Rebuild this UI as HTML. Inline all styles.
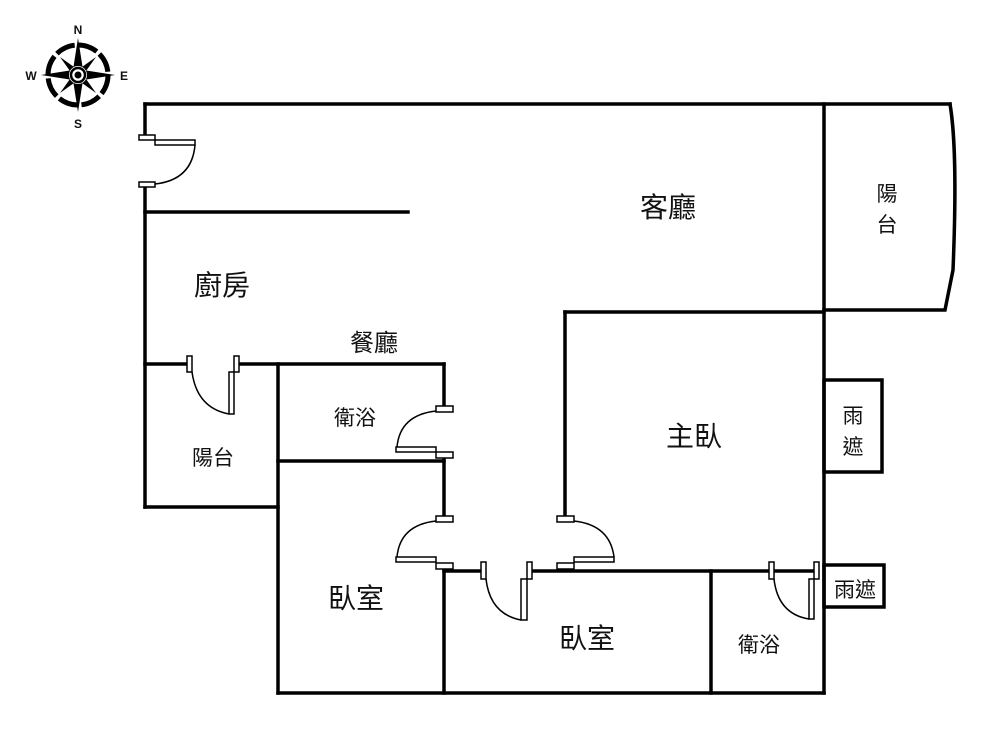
<!DOCTYPE html>
<html><head><meta charset="utf-8"><style>
html,body{margin:0;padding:0;background:#fff;}
svg{display:block;}
text{font-family:"Liberation Sans","Noto Sans CJK TC",sans-serif;fill:#111;}
</style></head><body>
<svg width="1000" height="729" viewBox="0 0 1000 729" xmlns="http://www.w3.org/2000/svg">
<rect width="1000" height="729" fill="#fff"/>
<!-- compass -->
<g transform="translate(78,75)">
  <circle r="30" fill="none" stroke="#000" stroke-width="5" stroke-dasharray="20 3.56"/>
  <polygon points="0,-37 5,-5 37,0 5,5 0,37 -5,5 -37,0 -5,-5" fill="#000"/>
  <polygon points="-18,-18 3,-3 18,18 -3,3" fill="#000" transform="rotate(0)"/>
  <polygon points="18,-18 3,3 -18,18 -3,-3" fill="#000"/>
  <circle r="9" fill="#fff"/><circle r="7" fill="none" stroke="#000" stroke-width="2.5"/><circle r="3.5" fill="#000"/>
</g>
<text x="78" y="34" font-size="12" font-weight="bold" text-anchor="middle">N</text>
<text x="78" y="128" font-size="12" font-weight="bold" text-anchor="middle">S</text>
<text x="31" y="80" font-size="12" font-weight="bold" text-anchor="middle">W</text>
<text x="124" y="80" font-size="12" font-weight="bold" text-anchor="middle">E</text>

<g stroke="#000" stroke-width="3.5" fill="none" stroke-linecap="square">
  <!-- outer top -->
  <line x1="145" y1="104" x2="950" y2="104"/>
  <line x1="145" y1="104" x2="145" y2="136"/>
  <line x1="145" y1="186" x2="145" y2="507"/>
  <line x1="145" y1="212" x2="408" y2="212"/>
  <!-- balcony right -->
  <path d="M950,104 Q958,150 953,270 L945,310 L824,310"/>
  <line x1="824" y1="104" x2="824" y2="693"/>
  <!-- master bedroom -->
  <line x1="565" y1="312" x2="824" y2="312"/>
  <line x1="565" y1="312" x2="565" y2="516"/>
  <!-- dining wall -->
  <line x1="145" y1="364" x2="187" y2="364"/>
  <line x1="238" y1="364" x2="444" y2="364"/>
  <line x1="444" y1="364" x2="444" y2="406"/>
  <line x1="278" y1="364" x2="278" y2="693"/>
  <line x1="278" y1="461" x2="444" y2="461"/>
  <line x1="444" y1="458" x2="444" y2="516"/>
  <line x1="145" y1="507" x2="278" y2="507"/>
  <line x1="444" y1="568" x2="444" y2="693"/>
  <line x1="444" y1="571" x2="481" y2="571"/>
  <line x1="532" y1="571" x2="769" y2="571"/>
  <line x1="774" y1="571" x2="814" y2="571"/>
  <line x1="711" y1="571" x2="711" y2="693"/>
  <line x1="278" y1="693" x2="824" y2="693"/>
  <!-- rain covers -->
  <rect x="824" y="380" width="58" height="92"/>
  <rect x="824" y="565" width="60" height="42"/>
</g>

<g stroke="#000" stroke-width="1.5" fill="#fff">
  <!-- entry door -->
  <rect x="139" y="135" width="16" height="5"/>
  <rect x="155" y="140" width="40" height="5"/>
  <rect x="139" y="182" width="16" height="5"/>
  <path d="M195,145 Q192,180 155,184" fill="none"/>
  <!-- balcony left door -->
  <rect x="187" y="356" width="5" height="16"/>
  <rect x="234" y="356" width="5" height="16"/>
  <rect x="229" y="372" width="5" height="42"/>
  <path d="M192,372 Q197,408 229,414" fill="none"/>
  <!-- bath door -->
  <rect x="436" y="406" width="17" height="6"/>
  <rect x="436" y="452" width="17" height="6"/>
  <rect x="396" y="447" width="40" height="5"/>
  <path d="M436,411 Q400,415 397,447" fill="none"/>
  <!-- bedroom 1 door -->
  <rect x="436" y="516" width="17" height="6"/>
  <rect x="436" y="563" width="17" height="6"/>
  <rect x="396" y="557" width="40" height="5"/>
  <path d="M436,521 Q400,525 397,557" fill="none"/>
  <!-- master door -->
  <rect x="557" y="516" width="17" height="6"/>
  <rect x="557" y="563" width="17" height="6"/>
  <rect x="574" y="557" width="40" height="5"/>
  <path d="M574,521 Q610,525 614,557" fill="none"/>
  <!-- bedroom 2 door -->
  <rect x="481" y="562" width="5" height="17"/>
  <rect x="527" y="562" width="5" height="17"/>
  <rect x="521" y="579" width="6" height="41"/>
  <path d="M486,579 Q490,614 521,620" fill="none"/>
  <!-- bath 2 door -->
  <rect x="769" y="562" width="5" height="17"/>
  <rect x="814" y="562" width="5" height="17"/>
  <rect x="809" y="579" width="5" height="40"/>
  <path d="M774,579 Q778,614 809,619" fill="none"/>
</g>

<g font-size="28">
  <text x="668" y="217" text-anchor="middle">客廳</text>
  <text x="222" y="295" text-anchor="middle">廚房</text>
  <text x="694" y="446" text-anchor="middle">主臥</text>
  <text x="356" y="608" text-anchor="middle">臥室</text>
  <text x="587" y="648" text-anchor="middle">臥室</text>
</g>
<g font-size="24">
  <text x="374" y="351" text-anchor="middle">餐廳</text>
</g>
<g font-size="21">
  <text x="887" y="201" text-anchor="middle">陽</text>
  <text x="887" y="232" text-anchor="middle">台</text>
  <text x="355" y="425" text-anchor="middle">衛浴</text>
  <text x="213" y="465" text-anchor="middle">陽台</text>
  <text x="853" y="423" text-anchor="middle">雨</text>
  <text x="853" y="454" text-anchor="middle">遮</text>
  <text x="759" y="652" text-anchor="middle">衛浴</text>
  <text x="855" y="597" text-anchor="middle">雨遮</text>
</g>
</svg>
</body></html>
